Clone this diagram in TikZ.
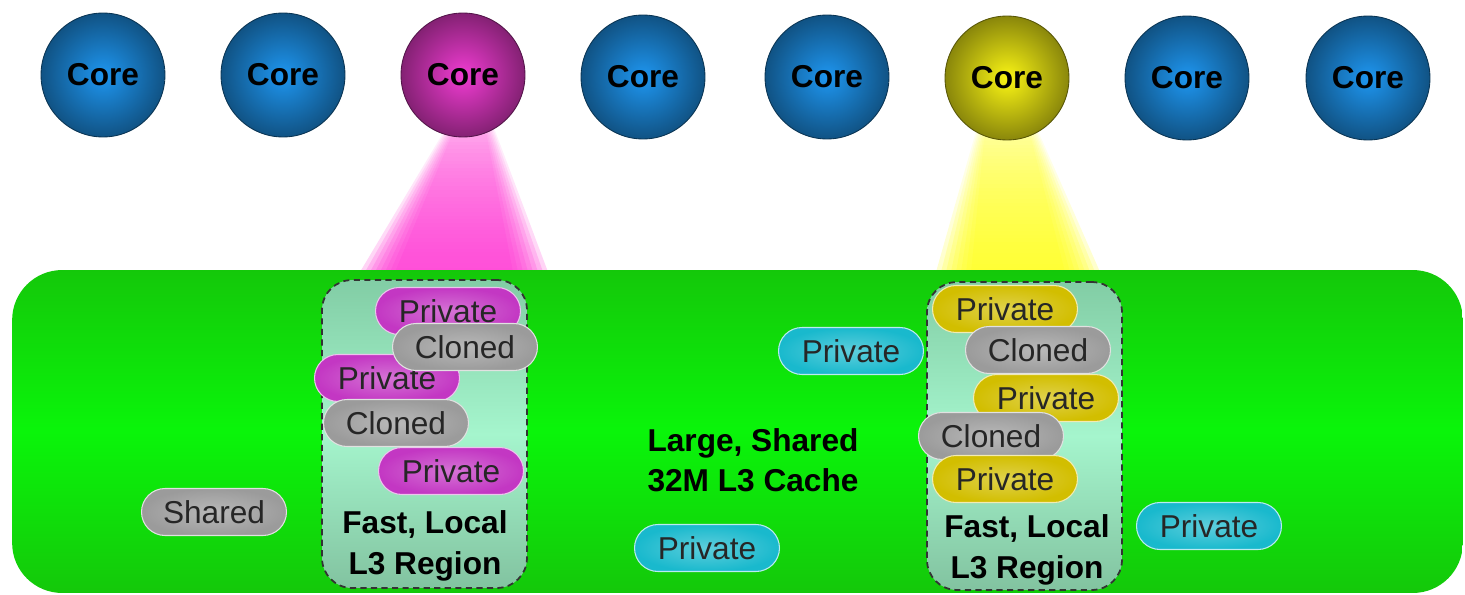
\documentclass[tikz,border=0pt]{standalone}
\usepackage{fontspec}
\setmainfont{Liberation Sans}
\usepackage{tikz}
\usetikzlibrary{shapes.misc,fadings}

\definecolor{coreblue}{RGB}{30,150,240}
\definecolor{coremag}{RGB}{240,60,210}
\definecolor{coreyel}{RGB}{250,245,20}
\definecolor{pillmag}{RGB}{195,55,195}
\definecolor{pillgray}{RGB}{155,155,155}
\definecolor{pillcyan}{RGB}{25,185,205}
\definecolor{pillyel}{RGB}{210,190,0}
\definecolor{beammag}{RGB}{255,50,210}
\definecolor{beamyel}{RGB}{255,255,20}
\definecolor{cachetop}{RGB}{20,200,10}
\definecolor{cachemid}{RGB}{10,245,10}
\definecolor{regtop}{RGB}{130,205,165}
\definecolor{regmid}{RGB}{165,245,205}
\definecolor{regbot}{RGB}{130,195,160}
\tikzfading[name=beamfade,top color=transparent!70,bottom color=transparent!0]

\begin{document}
\begin{tikzpicture}[x=0.02cm,y=-0.02cm,
  core/.style={circle,minimum size=2.48cm,inner sep=0pt,draw=#1!35!black,line width=0.5pt,
    inner color=#1,outer color=#1!55!black,font=\fontsize{18}{22}\selectfont\bfseries},
  pill/.style={rounded rectangle,minimum width=2.9cm,minimum height=0.94cm,inner sep=0pt,
    draw=#1!30!white,line width=0.6pt,inner color=#1!70!white,outer color=#1,
    text=black!85,font=\fontsize{18}{22}\selectfont},
  region/.style={draw=black!80,line width=1pt,dash pattern=on 3.5pt off 2.5pt,rounded corners=0.6cm,
    minimum height=6.16cm,top color=regtop,bottom color=regbot,middle color=regmid},
  caption/.style={font=\fontsize{18}{23}\selectfont\bfseries,align=center}
]
  \useasboundingbox (0,0) rectangle (1465,595);

  \foreach \d in {0,5,...,35} {
    \fill[beammag,opacity=0.22,path fading=beamfade]
      (446+\d/4,128) -- (494-\d/4,128) -- (548-\d,272) -- (360+\d,272) -- cycle;
    \fill[beamyel,opacity=0.22,path fading=beamfade]
      (976+\d/4,131) -- (1038-\d/4,131) -- (1100-\d,272) -- (936+\d,272) -- cycle;
  }

  \node[core=coreblue] (core1) at (103,75) {Core};
  \node[core=coreblue] (core2) at (283,75) {Core};
  \node[core=coremag]  (core3) at (463,75) {Core};
  \node[core=coreblue] (core4) at (643,77) {Core};
  \node[core=coreblue] (core5) at (827,77) {Core};
  \node[core=coreyel]  (core6) at (1007,78) {Core};
  \node[core=coreblue] (core7) at (1187,78) {Core};
  \node[core=coreblue] (core8) at (1368,78) {Core};

  \node[rounded corners=1cm,minimum width=29.02cm,minimum height=6.46cm,
    top color=cachetop,bottom color=cachetop,middle color=cachemid] (cache) at (737.5,431.5) {};

  \node[region,minimum width=4.1cm] (localA) at (424.5,434) {};
  \node[region,minimum width=3.9cm] (localB) at (1024.5,436) {};

  \node[pill=pillmag] (privA1) at (448,311) {Private};
  \node[pill=pillmag] (privA2) at (387,378) {Private};
  \node[pill=pillmag] (privA3) at (451,471) {Private};
  \node[pill=pillgray] (clonA1) at (465,347) {Cloned};
  \node[pill=pillgray] (clonA2) at (396,423) {Cloned};

  \node[pill=pillyel] (privB1) at (1005,309) {Private};
  \node[pill=pillyel] (privB2) at (1046,398) {Private};
  \node[pill=pillgray] (clonB1) at (1038,350) {Cloned};
  \node[pill=pillgray] (clonB2) at (991,436) {Cloned};
  \node[pill=pillyel] (privB3) at (1005,479) {Private};

  \node[pill=pillcyan] (privC1) at (851,351) {Private};
  \node[pill=pillcyan] (privC2) at (707,548) {Private};
  \node[pill=pillcyan] (privC3) at (1209,526) {Private};
  \node[pill=pillgray] (shared) at (214,512) {Shared};

  \node[caption] (labelA) at (425,546) {Fast, Local\\L3 Region};
  \node[caption] (labelB) at (1027,550) {Fast, Local\\L3 Region};
  \node[caption,align=left] (labelL3) at (753,460) {Large, Shared\\32M L3 Cache};
\end{tikzpicture}
\end{document}
